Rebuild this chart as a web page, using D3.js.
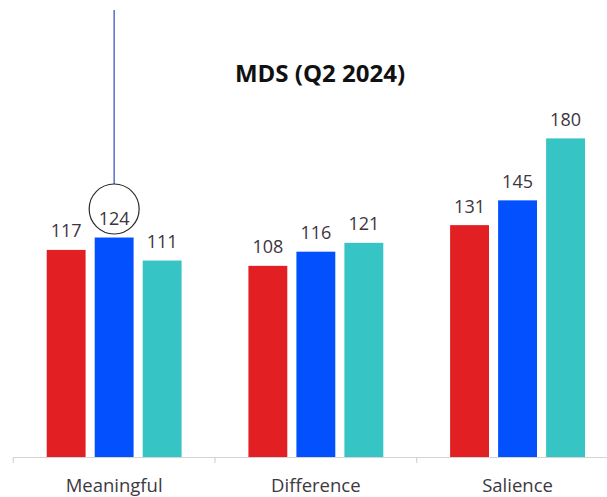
<!DOCTYPE html>
<html>
<head>
<meta charset="utf-8">
<script src="https://cdn.jsdelivr.net/npm/d3@7"></script>
<style>
  html, body { margin: 0; padding: 0; background: #fff; }
  svg { display: block; font-family: "Open Sans", sans-serif; }
</style>
</head>
<body>
<div id="chart"></div>
<script>
// chart data
var categories = ["Meaningful", "Difference", "Salience"];
var seriesNames = ["s1", "s2", "s3"];
var seriesColors = ["#e21f22", "#0350fe", "#36c4c4"];
var values = {
  s1: [117, 108, 131],
  s2: [124, 116, 145],
  s3: [111, 121, 180]
};
var title = "MDS (Q2 2024)";
var highlight = { category: "Meaningful", series: "s2" };

var width = 607, height = 497;

var svg = d3.select("#chart").append("svg")
    .attr("width", width)
    .attr("height", height);

// scales
var x0 = d3.scaleBand()
    .domain(categories)
    .range([13.3, 13.3 + 3 * 201.7])
    .padding(0);

var x1 = d3.scaleBand()
    .domain(seriesNames)
    .range([0, 144])
    .paddingInner(0.19)
    .paddingOuter(0.095);

var y = d3.scaleLinear()
    .domain([0, 200])
    .range([457, 457 - 354]);

function groupLeft(c) {
  return x0(c) + x0.bandwidth() / 2 - 72;
}

// flatten data for drawing
var data = [];
categories.forEach(function(c, i) {
  seriesNames.forEach(function(s, j) {
    data.push({ cat: c, series: s, value: values[s][i], color: seriesColors[j] });
  });
});

// title
svg.append("text")
    .attr("x", 320)
    .attr("y", 82)
    .attr("text-anchor", "middle")
    .style("font-size", "24px")
    .style("font-weight", "bold")
    .style("fill", "#111")
    .text(title);

// bars
svg.selectAll(".bar")
    .data(data)
  .enter().append("rect")
    .attr("class", "bar")
    .attr("x", function(d) { return groupLeft(d.cat) + x1(d.series); })
    .attr("width", x1.bandwidth())
    .attr("y", function(d) { return y(d.value); })
    .attr("height", function(d) { return y(0) - y(d.value); })
    .attr("fill", function(d) { return d.color; });

// value labels
svg.selectAll(".val")
    .data(data)
  .enter().append("text")
    .attr("class", "val")
    .attr("x", function(d) { return groupLeft(d.cat) + x1(d.series) + x1.bandwidth() / 2; })
    .attr("y", function(d) { return y(d.value) - 12.5; })
    .attr("text-anchor", "middle")
    .style("font-size", "18px")
    .style("fill", "#3d3540")
    .text(function(d) { return d.value; });

// x axis
var axis = svg.append("g")
    .attr("transform", "translate(0," + y(0) + ")");

axis.append("line")
    .attr("x1", x0.range()[0])
    .attr("x2", width)
    .attr("y1", 0.5)
    .attr("y2", 0.5)
    .attr("stroke", "#d4d4d4")
    .attr("stroke-width", 1.2);

axis.selectAll(".tick")
    .data(categories)
  .enter().append("line")
    .attr("class", "tick")
    .attr("x1", function(c) { return x0(c); })
    .attr("x2", function(c) { return x0(c); })
    .attr("y1", 0)
    .attr("y2", 6)
    .attr("stroke", "#d4d4d4")
    .attr("stroke-width", 1.2);

axis.selectAll(".cat")
    .data(categories)
  .enter().append("text")
    .attr("class", "cat")
    .attr("x", function(c) { return x0(c) + x0.bandwidth() / 2; })
    .attr("y", 34.5)
    .attr("text-anchor", "middle")
    .style("font-size", "18.5px")
    .style("fill", "#40383f")
    .text(function(c) { return c; });

// annotation: circle round the highlighted label, line above it
var hv = values[highlight.series][categories.indexOf(highlight.category)];
var hx = groupLeft(highlight.category) + x1(highlight.series) + x1.bandwidth() / 2;
var hy = y(hv) - 28.5;

svg.append("line")
    .attr("x1", hx)
    .attr("x2", hx)
    .attr("y1", 10)
    .attr("y2", hy - 25)
    .attr("stroke", "#4f63c6")
    .attr("stroke-width", 1.4);

svg.append("circle")
    .attr("cx", hx)
    .attr("cy", hy)
    .attr("r", 25)
    .attr("fill", "none")
    .attr("stroke", "#2a2a2a")
    .attr("stroke-width", 1.2);
</script>
</body>
</html>
